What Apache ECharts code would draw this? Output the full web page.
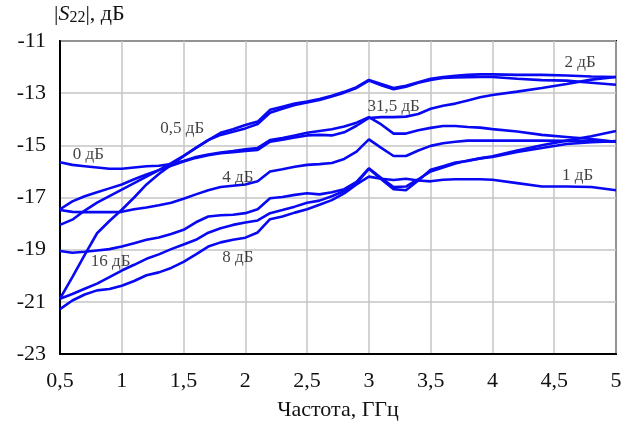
<!DOCTYPE html>
<html>
<head>
<meta charset="utf-8">
<script src="https://cdn.jsdelivr.net/npm/echarts@6/dist/echarts.min.js"></script>
<style>
  html, body { margin: 0; padding: 0; background: #fff; }
  #chart { width: 630px; height: 423px; }
</style>
</head>
<body>
<div id="chart"></div>
<script>
// частоты, ГГц (шаг 0,1 до 4 ГГц, дальше 0,2)
const freq = [0.5, 0.6, 0.7, 0.8, 0.9, 1.0, 1.1, 1.2, 1.3, 1.4, 1.5, 1.6, 1.7, 1.8, 1.9, 2.0,
	2.1, 2.2, 2.3, 2.4, 2.5, 2.6, 2.7, 2.8, 2.9, 3.0, 3.1, 3.2, 3.3, 3.4, 3.5, 3.6, 3.7, 3.8, 3.9, 4.0,
	4.2, 4.4, 4.6, 4.8, 5.0];

// |S22|, дБ для каждого состояния
const s0 = [-15.65, -15.75, -15.8, -15.85, -15.9, -15.9, -15.85, -15.8, -15.78, -15.72, -15.6, -15.45, -15.35, -15.28, -15.22, -15.15,
	-15.1, -14.8, -14.72, -14.62, -14.52, -14.45, -14.38, -14.28, -14.13, -13.92, -14.2, -14.55, -14.55, -14.42, -14.33, -14.26, -14.26, -14.3, -14.32, -14.38,
	-14.47, -14.6, -14.68, -14.76, -14.86];
const s31 = [-17.45, -17.15, -16.95, -16.8, -16.65, -16.5, -16.3, -16.12, -15.95, -15.78, -15.62, -15.48, -15.38, -15.3, -15.26, -15.22,
	-15.18, -14.86, -14.78, -14.7, -14.62, -14.6, -14.62, -14.5, -14.25, -13.95, -13.92, -13.92, -13.9, -13.8, -13.6, -13.48, -13.4, -13.28, -13.16, -13.07,
	-12.94, -12.8, -12.65, -12.48, -12.38];
const s4 = [-17.48, -17.55, -17.56, -17.56, -17.56, -17.55, -17.45, -17.38, -17.3, -17.2, -17.05, -16.88, -16.72, -16.6, -16.55, -16.5,
	-16.38, -16.0, -15.92, -15.82, -15.75, -15.72, -15.68, -15.52, -15.24, -14.77, -15.1, -15.41, -15.41, -15.2, -15.02, -14.92, -14.86, -14.82, -14.82, -14.82,
	-14.82, -14.82, -14.83, -14.84, -14.86];
const s05 = [-18.05, -17.85, -17.5, -17.2, -16.95, -16.7, -16.45, -16.2, -15.95, -15.68, -15.4, -15.1, -14.8, -14.6, -14.48, -14.35,
	-14.18, -13.75, -13.6, -13.45, -13.36, -13.26, -13.13, -12.98, -12.8, -12.52, -12.7, -12.85, -12.75, -12.6, -12.49, -12.42, -12.4, -12.39, -12.38, -12.38,
	-12.45, -12.5, -12.52, -12.6, -12.68];
const s2 = [-20.88, -20.05, -19.2, -18.37, -17.9, -17.47, -17.0, -16.5, -16.1, -15.75, -15.42, -15.1, -14.8, -14.52, -14.38, -14.22,
	-14.09, -13.64, -13.52, -13.4, -13.32, -13.22, -13.1, -12.95, -12.77, -12.49, -12.65, -12.8, -12.72, -12.58, -12.45, -12.38, -12.33, -12.3, -12.28, -12.28,
	-12.3, -12.3, -12.32, -12.36, -12.38];
const s16 = [-19.05, -19.12, -19.08, -19.03, -18.98, -18.88, -18.75, -18.62, -18.53, -18.4, -18.24, -17.95, -17.73, -17.68, -17.66, -17.6,
	-17.45, -17.03, -16.98, -16.9, -16.84, -16.88, -16.8, -16.68, -16.4, -15.88, -16.25, -16.6, -16.58, -16.3, -16.0, -15.85, -15.7, -15.58, -15.5, -15.42,
	-15.2, -15.0, -14.82, -14.65, -14.45];
const s8 = [-20.88, -20.7, -20.5, -20.3, -20.05, -19.8, -19.58, -19.35, -19.18, -18.98, -18.8, -18.62, -18.35, -18.18, -18.05, -17.96,
	-17.88, -17.6, -17.48, -17.35, -17.2, -17.12, -16.95, -16.75, -16.45, -15.9, -16.3, -16.68, -16.72, -16.35, -15.94, -15.8, -15.66, -15.6, -15.5, -15.45,
	-15.25, -15.1, -14.95, -14.88, -14.84];
const s1 = [-21.28, -20.95, -20.72, -20.56, -20.51, -20.38, -20.2, -19.98, -19.87, -19.7, -19.47, -19.18, -18.88, -18.72, -18.62, -18.54,
	-18.34, -17.83, -17.73, -17.58, -17.45, -17.28, -17.1, -16.84, -16.5, -16.2, -16.28, -16.33, -16.28, -16.35, -16.38, -16.32, -16.3, -16.3, -16.3, -16.32,
	-16.45, -16.58, -16.58, -16.6, -16.72];

const curves = [s0, s31, s4, s05, s2, s16, s8, s1];

// подписи состояний
const labelTexts = ["0 дБ", "0,5 дБ", "4 дБ", "16 дБ", "8 дБ", "31,5 дБ", "2 дБ", "1 дБ"];
const labelX = [0.73, 1.49, 1.94, 0.91, 1.94, 3.2, 4.71, 4.69];
const labelY = [-15.37, -14.37, -16.25, -19.47, -19.31, -13.53, -11.84, -16.17];

const font = "Liberation Serif";
const chart = echarts.init(document.getElementById("chart"));

const series = curves.map((vals, i) => ({
	type: "line",
	data: freq.map((f, k) => [f, vals[k]]),
	showSymbol: false,
	symbol: "none",
	lineStyle: { color: "#0808f2", width: 2.6 },
	z: 3,
}));

series.push({
	type: "scatter",
	data: labelX.map((x, i) => [x, labelY[i], labelTexts[i]]),
	symbolSize: 0,
	z: 5,
	label: {
		show: true,
		position: "inside",
		formatter: (p) => p.data[2],
		fontFamily: font,
		fontSize: 17,
		color: "#111",
	},
});

chart.setOption({
	animation: false,
	grid: {
		left: 60,
		right: 14,
		top: 41,
		bottom: 69,
		outerBoundsMode: "none",
		containLabel: false,
		show: true,
		borderColor: "#000",
		borderWidth: 2,
	},
	xAxis: {
		type: "value",
		min: 0.5,
		max: 5,
		interval: 0.5,
		name: "Частота, ГГц",
		nameLocation: "middle",
		nameGap: 45,
		nameTextStyle: { fontFamily: font, fontSize: 22, color: "#111" },
		axisLine: { lineStyle: { color: "#000", width: 2 } },
		axisTick: { show: false },
		axisLabel: {
			fontFamily: font,
			fontSize: 22,
			color: "#111",
			margin: 16,
			formatter: (v) => String(v).replace(".", ","),
		},
		splitLine: { lineStyle: { color: "#c4c4c4", width: 1.5 } },
	},
	yAxis: {
		type: "value",
		min: -23,
		max: -11,
		interval: 2,
		name: "|{i|S}{sub|22}|, дБ",
		nameLocation: "end",
		nameGap: 15,
		nameTextStyle: {
			fontFamily: font,
			fontSize: 22,
			color: "#111",
			align: "left",
			padding: [0, 0, 0, -6],
			rich: {
				i: { fontFamily: font, fontSize: 22, fontStyle: "italic", color: "#111" },
				sub: { fontFamily: font, fontSize: 16, color: "#111", verticalAlign: "bottom", padding: [7, 0, 0, 0] },
			},
		},
		axisLine: { show: true, lineStyle: { color: "#000", width: 2 } },
		axisTick: { show: false },
		axisLabel: { fontFamily: font, fontSize: 22, color: "#111", margin: 14 },
		splitLine: { lineStyle: { color: "#c4c4c4", width: 1.5 } },
	},
	series: series,
});
</script>
</body>
</html>
